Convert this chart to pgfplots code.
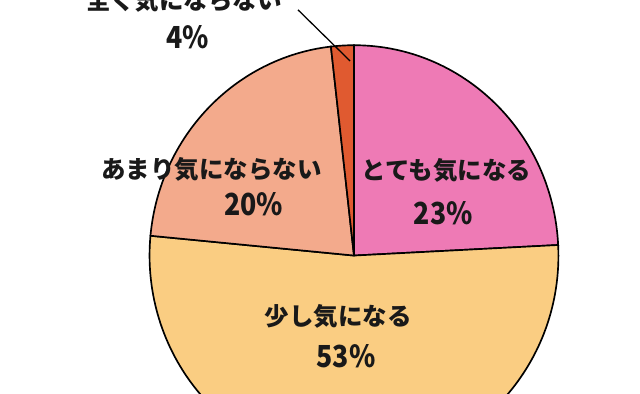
\documentclass[border=0pt]{standalone}
\usepackage{pgfplots}
\pgfplotsset{compat=1.18}
\usepackage{pgfplotstable}
\usepackage{graphicx}
\usepackage{fontspec}
\setmainfont{Noto Sans CJK JP}
\newfontfamily\jp{Noto Sans CJK JP}

\definecolor{cpink}{RGB}{238,122,181}
\definecolor{corange}{RGB}{250,205,130}
\definecolor{csalmon}{RGB}{243,170,140}
\definecolor{cred}{RGB}{224,90,48}

% slice shares as drawn (clockwise from 12 o'clock)
\pgfplotstableread{
name value
pink 24.2
orange 52.3
salmon 21.7
red 1.8
}\piedata

\newcommand{\lab}[1]{{\jp\bfseries\fontsize{25}{28}\selectfont #1}}
\newcommand{\pct}[1]{\scalebox{0.88}[1]{\jp\bfseries\fontsize{31}{33}\selectfont #1}}

\begin{document}
\pgfmathsetmacro\aA{90}
\pgfplotstablegetelem{0}{value}\of\piedata
\pgfmathsetmacro\aB{\aA-3.6*\pgfplotsretval}
\pgfplotstablegetelem{1}{value}\of\piedata
\pgfmathsetmacro\aC{\aB-3.6*\pgfplotsretval}
\pgfplotstablegetelem{2}{value}\of\piedata
\pgfmathsetmacro\aD{\aC-3.6*\pgfplotsretval}
\pgfplotstablegetelem{3}{value}\of\piedata
\pgfmathsetmacro\aE{\aD-3.6*\pgfplotsretval}
\begin{tikzpicture}
  \useasboundingbox (0,0) rectangle (640bp,400bp);
  \clip (0,0) rectangle (640bp,400bp);
  \begin{axis}[
      at={(0,0)}, anchor=south west,
      scale only axis, width=640bp, height=400bp,
      xmin=0, xmax=640, ymin=0, ymax=400,
      y dir=reverse,
      hide axis, clip=false,
    ]
    \filldraw[cpink, draw=black, line width=1.7bp] (axis cs:349,260) -- +(\aA:208bp and 214bp)
      arc[start angle=\aA, end angle=\aB, x radius=208bp, y radius=214bp] -- cycle;
    \filldraw[corange, draw=black, line width=1.7bp] (axis cs:349,260) -- +(\aB:208bp and 214bp)
      arc[start angle=\aB, end angle=\aC, x radius=208bp, y radius=214bp] -- cycle;
    \filldraw[csalmon, draw=black, line width=1.7bp] (axis cs:349,260) -- +(\aC:208bp and 214bp)
      arc[start angle=\aC, end angle=\aD, x radius=208bp, y radius=214bp] -- cycle;
    \filldraw[cred, draw=black, line width=1.7bp] (axis cs:349,260) -- +(\aD:208bp and 214bp)
      arc[start angle=\aD, end angle=\aE, x radius=208bp, y radius=214bp] -- cycle;

    \draw[black, line width=1.3bp] (axis cs:292,10) -- (axis cs:345,62);

    \node[text=black!90] at (axis cs:443,173) {\lab{とても気になる}};
    \node[text=black!90] at (axis cs:440,217) {\pct{23\%}};
    \node[text=black!90] at (axis cs:333,322) {\lab{少し気になる}};
    \node[text=black!90] at (axis cs:341,362) {\pct{53\%}};
    \node[text=black!90] at (axis cs:204,172) {\lab{あまり気にならない}};
    \node[text=black!90] at (axis cs:247,208) {\pct{20\%}};
    \node[text=black!90] at (axis cs:176,0) {\lab{全く気にならない}};
    \node[text=black!90] at (axis cs:180,38) {\pct{4\%}};
  \end{axis}
\end{tikzpicture}
\end{document}
